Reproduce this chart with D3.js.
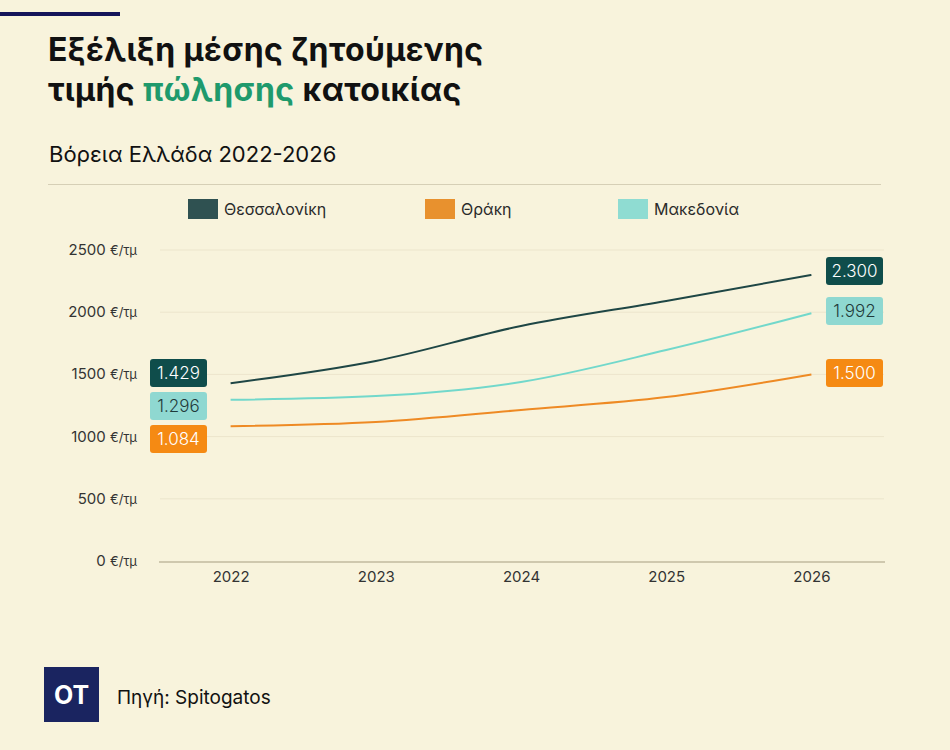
<!DOCTYPE html>
<html><head><meta charset="utf-8">
<script src="https://cdn.jsdelivr.net/npm/d3@7"></script>
<style>
html,body{margin:0;padding:0;background:#f8f3dc;}
svg{display:block;font-family:Inter,"Noto Sans",sans-serif;}
</style></head>
<body><svg id="c" width="950" height="750"></svg>
<script>
const years = ["2022","2023","2024","2025","2026"];
const thessaloniki = [1429, 1608, 1889, 2090, 2300];
const thraki = [1084, 1117, 1214, 1318, 1500];
const makedonia = [1296, 1326, 1439, 1696, 1992];
const seriesNames = ["Θεσσαλονίκη", "Θράκη", "Μακεδονία"];
const yTicks = [0, 500, 1000, 1500, 2000, 2500];

const svg = d3.select("#c");
svg.append("rect").attr("width",950).attr("height",750).attr("fill","#f8f3dc");
svg.append("rect").attr("x",0).attr("y",12).attr("width",120).attr("height",4).attr("fill","#14145a");

const title = svg.append("text").attr("x",48).attr("font-size",32).attr("font-weight",700).attr("letter-spacing",0.4).attr("fill","#111");
title.append("tspan").attr("x",48).attr("y",61).text("Εξέλιξη μέσης ζητούμενης");
const l2 = title.append("tspan").attr("x",48).attr("y",101);
l2.append("tspan").text("τιμής ");
l2.append("tspan").attr("fill","#1f9a6c").text("πώλησης");
l2.append("tspan").text(" κατοικίας");
svg.append("text").attr("x",49).attr("y",162).attr("font-size",22).attr("fill","#111").text("Βόρεια Ελλάδα 2022-2026");
svg.append("line").attr("x1",48).attr("x2",881).attr("y1",184.5).attr("y2",184.5).attr("stroke","#d6cfb6").attr("stroke-width",1);

const lineColors = ["#1e4645","#ee8a24","#72d8cb"];
const swatchColors = ["#2f5151","#e8912e","#8fdcd2"];
const boxColors = ["#0f4d4b","#f58a13","#8fd8d1"];
const boxText = ["#ffffff","#ffffff","#1f3a3a"];

const legendX = [188, 425, 618];
seriesNames.forEach((n,i)=>{
  svg.append("rect").attr("x",legendX[i]).attr("y",199).attr("width",30).attr("height",20).attr("fill",swatchColors[i]);
  svg.append("text").attr("x",legendX[i]+36).attr("y",215).attr("font-size",16).attr("fill","#2a2a2a").text(n);
});

const x = d3.scalePoint().domain(years).range([158,884]).padding(0.5);
const y = d3.scaleLinear().domain([0,2500]).range([561,250]);

const g = svg.append("g");
yTicks.forEach(t=>{
  if(t>0) g.append("line").attr("x1",160).attr("x2",884).attr("y1",y(t)).attr("y2",y(t)).attr("stroke","#ece5cc").attr("stroke-width",1);
  const tx = g.append("text").attr("x",137).attr("y",y(t)+5).attr("text-anchor","end").attr("fill","#333").attr("font-size",15);
  tx.append("tspan").text(t+" ");
  tx.append("tspan").attr("font-size",13).text("€/τμ");
});
g.append("line").attr("x1",159).attr("x2",885).attr("y1",562).attr("y2",562).attr("stroke","#cfc8ae").attr("stroke-width",2);
const xAxis = d3.axisBottom(x).tickSize(0).tickPadding(7);
const xa = svg.append("g").attr("transform","translate(0,562)").call(xAxis);
xa.select(".domain").remove();
xa.selectAll("text").attr("font-size",15).attr("fill","#333").attr("font-family","Inter,'Noto Sans',sans-serif").attr("dy","0.85em");

const data = [thessaloniki, thraki, makedonia];
const line = d3.line().x((d,i)=>x(years[i])).y(d=>y(d)).curve(d3.curveMonotoneX);
data.forEach((s,i)=>{
  svg.append("path").attr("d",line(s)).attr("fill","none").attr("stroke",lineColors[i]).attr("stroke-width",2);
});

const fmt = v => d3.format(",")(v).replace(/,/g,".");
const leftY = [373, 439, 406];
const rightY = [271, 373, 311];
data.forEach((s,i)=>{
  [[150, leftY[i], s[0]], [826, rightY[i], s[s.length-1]]].forEach(([bx,cy,v])=>{
    svg.append("rect").attr("x",bx).attr("y",cy-14).attr("width",57).attr("height",28).attr("rx",3).attr("fill",boxColors[i]);
    svg.append("text").attr("x",bx+28.5).attr("y",cy+6).attr("text-anchor","middle").attr("font-size",17).attr("font-weight",300).attr("fill",boxText[i]).text(fmt(v));
  });
});

svg.append("rect").attr("x",44).attr("y",667).attr("width",55).attr("height",55).attr("fill","#1a2460");
svg.append("text").attr("x",71.5).attr("y",704).attr("text-anchor","middle").attr("font-size",25).attr("font-weight",700).attr("fill","#fff").text("OT");
svg.append("text").attr("x",117).attr("y",704).attr("font-size",19).attr("fill","#111").text("Πηγή: Spitogatos");
</script></body></html>
